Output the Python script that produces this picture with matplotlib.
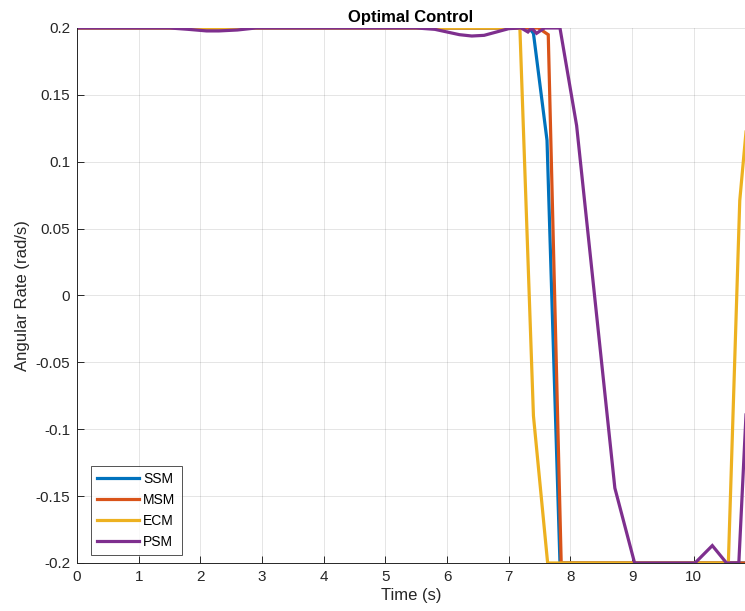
import matplotlib as mpl
mpl.use('Agg')
import matplotlib.pyplot as plt
import numpy as np
from matplotlib.ticker import FuncFormatter

# control histories (time s, angular rate rad/s)
ssm_t = [0, 7.33, 7.40, 7.62, 7.83, 11.0]
ssm_u = [0.2, 0.2, 0.196, 0.116, -0.2, -0.2]

msm_t = [0, 7.48, 7.64, 7.85, 11.0]
msm_u = [0.2, 0.2, 0.195, -0.2, -0.2]

ecm_t = [0, 7.18, 7.40, 7.63, 10.56, 10.745, 11.0]
ecm_u = [0.2, 0.2, -0.09, -0.2, -0.2, 0.071, 0.2]

psm_t = [0, 1.5, 1.8, 2.1, 2.3, 2.6, 2.9, 5.5, 5.8, 6.0, 6.2, 6.4, 6.6, 6.8, 7.0,
         7.2, 7.31, 7.37, 7.45, 7.58, 7.83, 8.10, 8.72, 9.04, 10.02, 10.30, 10.53,
         10.73, 10.94]
psm_u = [0.2, 0.2, 0.199, 0.1978, 0.1978, 0.1985, 0.2, 0.2, 0.199, 0.197, 0.195,
         0.194, 0.1945, 0.197, 0.1995, 0.2, 0.197, 0.2, 0.196, 0.2, 0.2, 0.127,
         -0.144, -0.2, -0.2, -0.187, -0.2, -0.2, 0.0]

names = ['SSM', 'MSM', 'ECM', 'PSM']
colors = ['#0072BD', '#D95319', '#EDB120', '#7E2F8E']

plt.rcParams['font.family'] = ['Liberation Sans', 'DejaVu Sans']

fig = plt.figure(figsize=(7.45, 6.11), dpi=100)
ax = fig.add_axes([0.1034, 0.0786, 0.8966, 0.8756])

series = [(ssm_t, ssm_u), (msm_t, msm_u), (ecm_t, ecm_u), (psm_t, psm_u)]
for (t, u), name, c in zip(series, names, colors):
    ax.plot(t, u, color=c, lw=2.3, label=name, solid_joinstyle='miter')

ax.set_xlim(0, 10.83)
ax.set_ylim(-0.2, 0.2)
ax.set_xticks(np.arange(0, 11, 1))
ax.set_yticks(np.arange(-0.2, 0.2001, 0.05))
ax.yaxis.set_major_formatter(FuncFormatter(lambda v, p: '%g' % (round(v, 3) + 0.0)))
ax.grid(True, color='#262626', alpha=0.12, lw=0.7)
ax.set_axisbelow(True)
for s in ['top', 'right']:
    ax.spines[s].set_visible(False)
for s in ['left', 'bottom']:
    ax.spines[s].set_color('#262626')
    ax.spines[s].set_linewidth(0.7)
ax.tick_params(direction='in', length=5, width=0.7, colors='#262626',
               labelsize=11, labelcolor='#262626', pad=5)

ax.set_xlabel('Time (s)', fontsize=12, color='#262626', labelpad=3)
ax.set_ylabel('Angular Rate (rad/s)', fontsize=12, color='#262626', labelpad=4)
ax.set_title('Optimal Control', fontsize=12, fontweight='bold', pad=4)

leg = ax.legend(loc='lower left', bbox_to_anchor=(0.021, 0.015), fontsize=10,
                fancybox=False, edgecolor='#262626', handlelength=3.0,
                handletextpad=0.3, borderpad=0.45, labelspacing=0.5,
                borderaxespad=0.0)
leg.get_frame().set_linewidth(0.7)

fig.savefig('out.png', dpi=100)
